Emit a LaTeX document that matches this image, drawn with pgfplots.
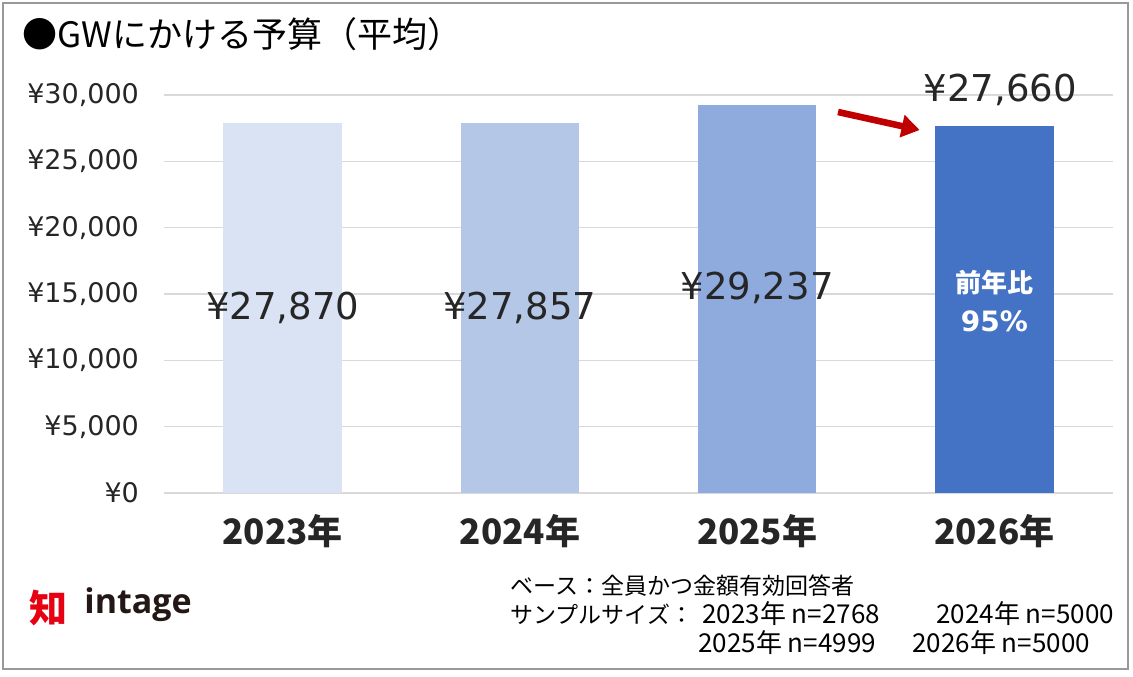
\documentclass[border=0pt]{standalone}
\usepackage{fontspec}
\setmainfont{Noto Sans CJK JP}
\newfontfamily\logofont{Open Sans}
\newfontfamily\numfont{DejaVu Sans}
\usepackage{graphicx}
\usepackage{pgfplots}
\pgfplotsset{compat=1.18}
\usetikzlibrary{arrows.meta}
\definecolor{cA}{HTML}{DAE3F3}
\definecolor{cB}{HTML}{B4C7E7}
\definecolor{cC}{HTML}{8FAADC}
\definecolor{cD}{HTML}{4472C4}
\definecolor{gridc}{HTML}{D9D9D9}
\definecolor{txt}{HTML}{262626}
\definecolor{arr}{HTML}{C00000}
\definecolor{logored}{HTML}{E60012}
\definecolor{logotxt}{HTML}{231815}
\begin{document}
\begin{tikzpicture}[x=0.5pt,y=-0.5pt]
\fill[white] (0,0) rectangle (1133,676);
\draw[gray!80, line width=1.2pt] (3,3) rectangle (1128,669);
\node[anchor=base west, text=black, inner sep=0pt] at (22,47) {\fontsize{17.5}{19}\selectfont ●GWにかける予算（平均）};
\coordinate (A) at (164,493);
\begin{axis}[
  at={(A)}, anchor=south west, scale only axis,
  width=474.5pt, height=199pt,
  xmin=-0.5, xmax=3.5, ymin=0, ymax=30000,
  clip=false,
  scaled y ticks=false,
  axis line style={draw=none},
  tick style={draw=none},
  ymajorgrids, grid style={color=gridc, line width=0.75pt},
  xtick={0,1,2,3},
  xticklabels={2023年,2024年,2025年,2026年},
  ytick={0,5000,10000,15000,20000,25000,30000},
  yticklabels={¥0,{¥5,000},{¥10,000},{¥15,000},{¥20,000},{¥25,000},{¥30,000}},
  /pgf/number format/assume math mode=true,
  yticklabel style={font=\numfont\fontsize{13.5}{15}\selectfont, text=txt, anchor=east, xshift=-9pt},
  xticklabel style={font=\fontsize{17.5}{19}\selectfont\bfseries, text=txt, yshift=-3pt},
  ybar, bar width=0.5, bar shift=0pt,
]
\addplot[fill=cA, draw=none] coordinates {(0,27870)};
\addplot[fill=cB, draw=none] coordinates {(1,27857)};
\addplot[fill=cC, draw=none] coordinates {(2,29237)};
\addplot[fill=cD, draw=none] coordinates {(3,27660)};
\node[text=txt] at (axis cs:0,13935) {\numfont\fontsize{18.5}{20}\selectfont ¥27,870};
\node[text=txt] at (axis cs:1,13930) {\numfont\fontsize{18.5}{20}\selectfont ¥27,857};
\node[text=txt] at (axis cs:2,15450) {\numfont\fontsize{18.5}{20}\selectfont ¥29,237};
\node[text=txt, xshift=3pt] at (axis cs:3,30400) {\numfont\fontsize{18.5}{20}\selectfont ¥27,660};
\node[text=white] at (axis cs:3,15830) {\fontsize{13}{15}\selectfont\bfseries 前年比};
\node[text=white] at (axis cs:3,12965) {\numfont\fontsize{14}{15}\selectfont\bfseries 95\%};
\draw[arr, line width=3.3pt, -{Triangle[width=11pt,length=9pt]}] (axis cs:2.341,28718) -- (axis cs:2.685,27361);
\end{axis}
\node[text=logored, inner sep=0pt] at (48,608) {\fontsize{19}{19}\selectfont\bfseries 知};
\node[text=logotxt, anchor=west, inner sep=0pt] at (84,605) {\logofont\bfseries\fontsize{17}{20}\selectfont intage};
\begin{scope}[every node/.style={anchor=base west, inner sep=0pt, text=black, font=\fontsize{11.5}{13}\selectfont}]
\node at (510,594) {ベース：全員かつ金額有効回答者};
\node at (510,623) {サンプルサイズ：};
\node[font=\fontsize{13}{14}\selectfont] at (702,623) {2023年 n=2768};
\node[font=\fontsize{13}{14}\selectfont] at (936,623) {2024年 n=5000};
\node[font=\fontsize{13}{14}\selectfont] at (698,652) {2025年 n=4999};
\node[font=\fontsize{13}{14}\selectfont] at (912,652) {2026年 n=5000};
\end{scope}
\end{tikzpicture}
\end{document}
